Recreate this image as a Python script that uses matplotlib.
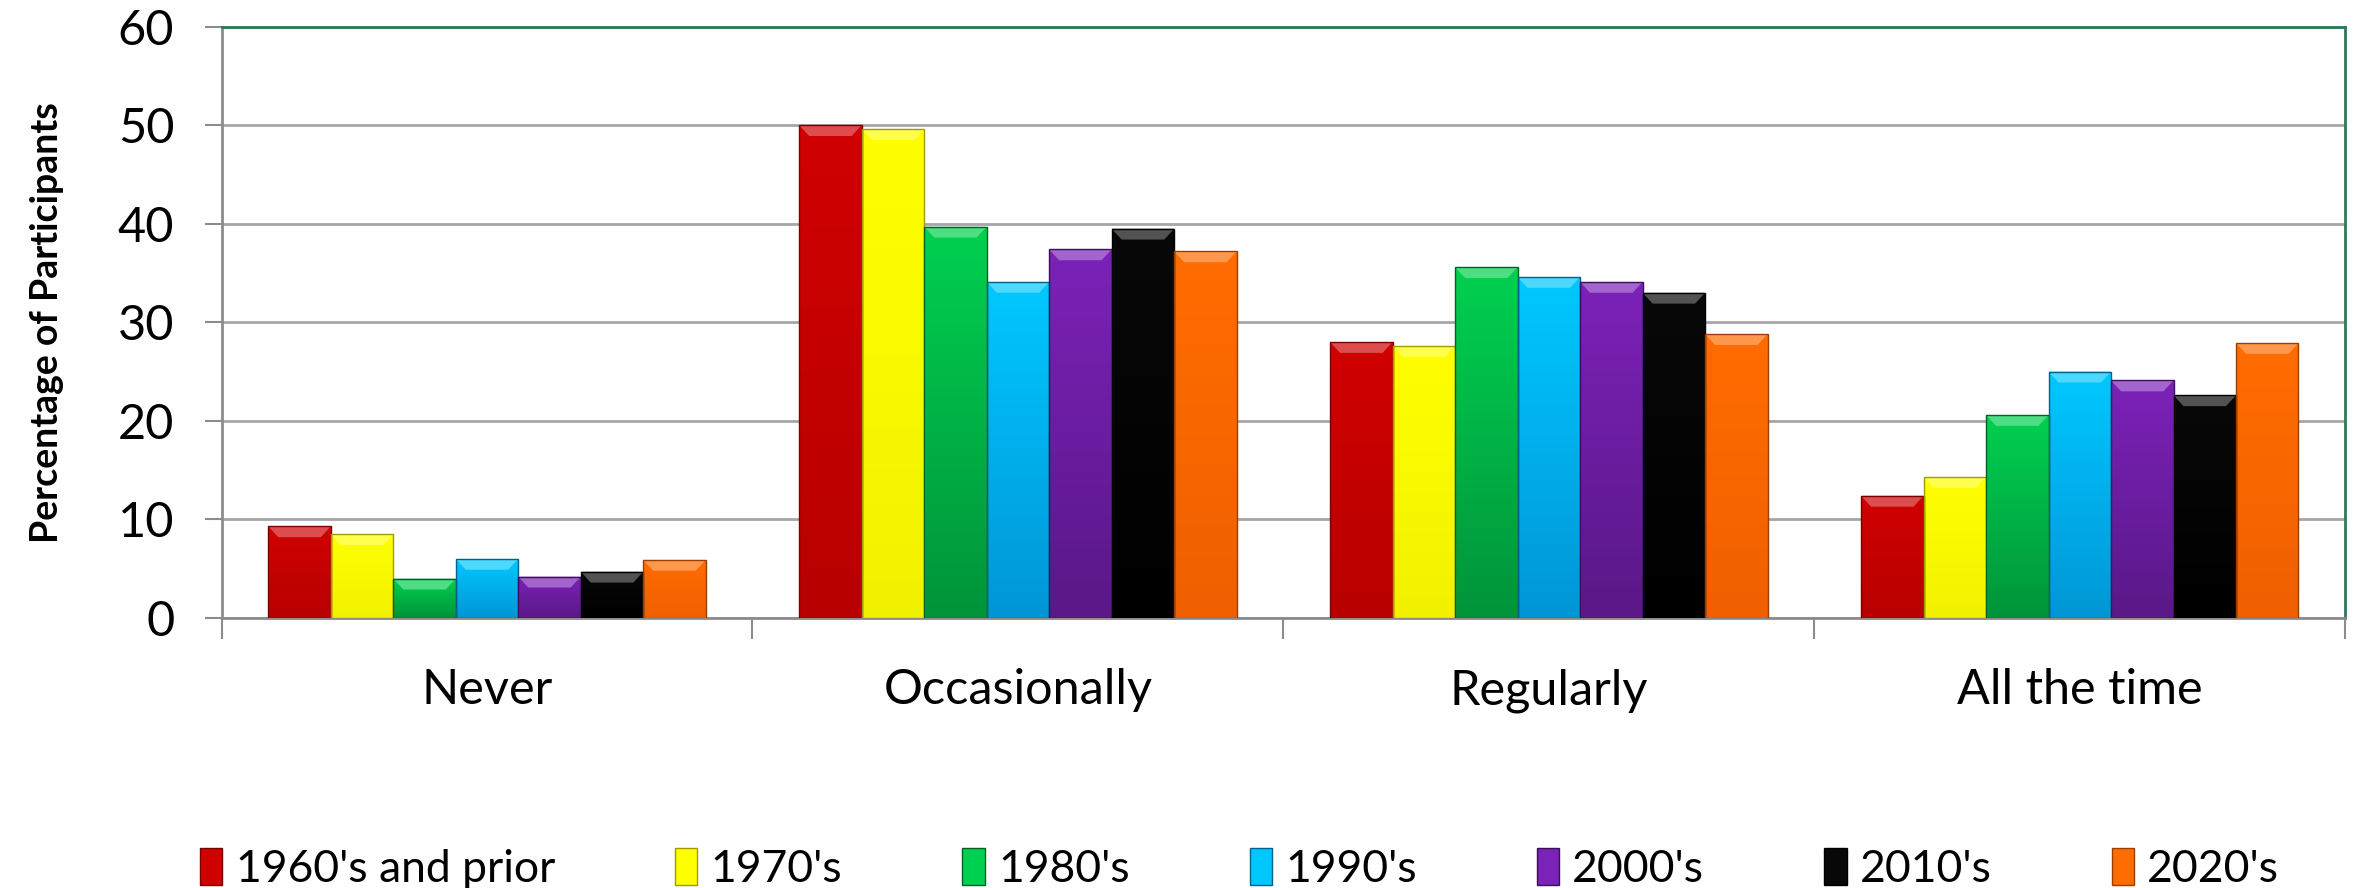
import numpy as np
import matplotlib
matplotlib.use("Agg")
import matplotlib.pyplot as plt
from matplotlib.colors import to_rgb, LinearSegmentedColormap
from matplotlib.patches import Polygon, Patch

categories = ["Never", "Occasionally", "Regularly", "All the time"]
series_names = ["1960's and prior", "1970's", "1980's", "1990's", "2000's", "2010's", "2020's"]
v1960 = [9.3, 50.0, 28.0, 12.4]
v1970 = [8.5, 49.6, 27.6, 14.3]
v1980 = [4.0, 39.7, 35.6, 20.6]
v1990 = [6.0, 34.1, 34.6, 25.0]
v2000 = [4.2, 37.4, 34.1, 24.1]
v2010 = [4.7, 39.5, 33.0, 22.6]
v2020 = [5.9, 37.2, 28.8, 27.9]
series_values = [v1960, v1970, v1980, v1990, v2000, v2010, v2020]
yticks = [0, 10, 20, 30, 40, 50, 60]
ylabel = "Percentage of Participants"

top_colors = ["#D00000", "#FFFF00", "#00D050", "#00C8FF", "#7B22B8", "#080808", "#FF6C00"]
bot_colors = ["#B80000", "#F2F200", "#00943A", "#0096D6", "#5A1888", "#000000", "#F06000"]

plt.rcParams['font.family'] = ['Lato', 'DejaVu Sans']

fig = plt.figure(figsize=(23.57, 8.88), dpi=100)
ax = fig.add_axes([0.094, 0.304, 0.901, 0.666])

n = len(series_names)
x = np.arange(len(categories))
group = 0.824
w = group / n

def blend(c, other, t):
    c = np.array(to_rgb(c)); o = np.array(to_rgb(other))
    return tuple(c * (1 - t) + o * t)

handles = []
for i, (name, vals) in enumerate(zip(series_names, series_values)):
    pos = x - group / 2 + w * (i + 0.5)
    bars = ax.bar(pos, vals, width=w, color=top_colors[i], label=name,
                  edgecolor=blend(bot_colors[i], 'black', 0.35), linewidth=1.0, zorder=3)
    handles.append(Patch(facecolor=top_colors[i], edgecolor=blend(bot_colors[i], 'black', 0.35),
                         linewidth=1.0))
    cmap = LinearSegmentedColormap.from_list("g%d" % i, [bot_colors[i], top_colors[i]])
    for b in bars:
        x0 = b.get_x(); bw = b.get_width(); h = b.get_height()
        grad = np.linspace(1, 0, 100).reshape(-1, 1)
        im = ax.imshow(grad, extent=[x0, x0 + bw, 0, h], aspect='auto', cmap=cmap,
                       zorder=3.1, interpolation='bicubic')
        im.set_clip_path(b)
        bh = min(1.1, h * 0.3)
        ins = bw * 0.16
        light = Polygon([[x0, h], [x0 + bw, h], [x0 + bw - ins, h - bh], [x0 + ins, h - bh]],
                        closed=True, facecolor=blend(top_colors[i], 'white', 0.3),
                        edgecolor='none', zorder=3.2)
        ax.add_patch(light)
        b.set_facecolor('none')
        b.set_zorder(3.3)

ax.set_xlim(-0.5, len(categories) - 0.5)
ax.set_ylim(0, 60)
ax.set_yticks(yticks)
ax.set_yticklabels([str(t) for t in yticks], fontsize=35)
ax.yaxis.grid(True, color='#A6A6A6', linewidth=2, zorder=0)
ax.set_axisbelow(True)

ax.set_xticks(x)
ax.set_xticklabels(categories, fontsize=35)
ax.tick_params(axis='x', which='major', length=0, pad=36)
ax.set_xticks(np.arange(len(categories) + 1) - 0.5, minor=True)
ax.tick_params(axis='x', which='minor', length=15, width=1.5, color='#8C8C8C')
ax.tick_params(axis='y', length=12, width=1.5, color='#8C8C8C', pad=22)

for s in ['left', 'bottom']:
    ax.spines[s].set_color('#8C8C8C')
    ax.spines[s].set_linewidth(2)
for s in ['top', 'right']:
    ax.spines[s].set_color('#2E7A58')
    ax.spines[s].set_linewidth(2)

ax.set_ylabel(ylabel, fontsize=27, fontweight='bold', labelpad=39)

fig.legend(handles=handles, labels=series_names, loc='lower center', ncol=n,
           bbox_to_anchor=(0.526, -0.047), frameon=False, fontsize=32,
           handlelength=0.5, handleheight=0.9, handletextpad=0.3, columnspacing=2.7)

fig.savefig("out.png", dpi=100)
